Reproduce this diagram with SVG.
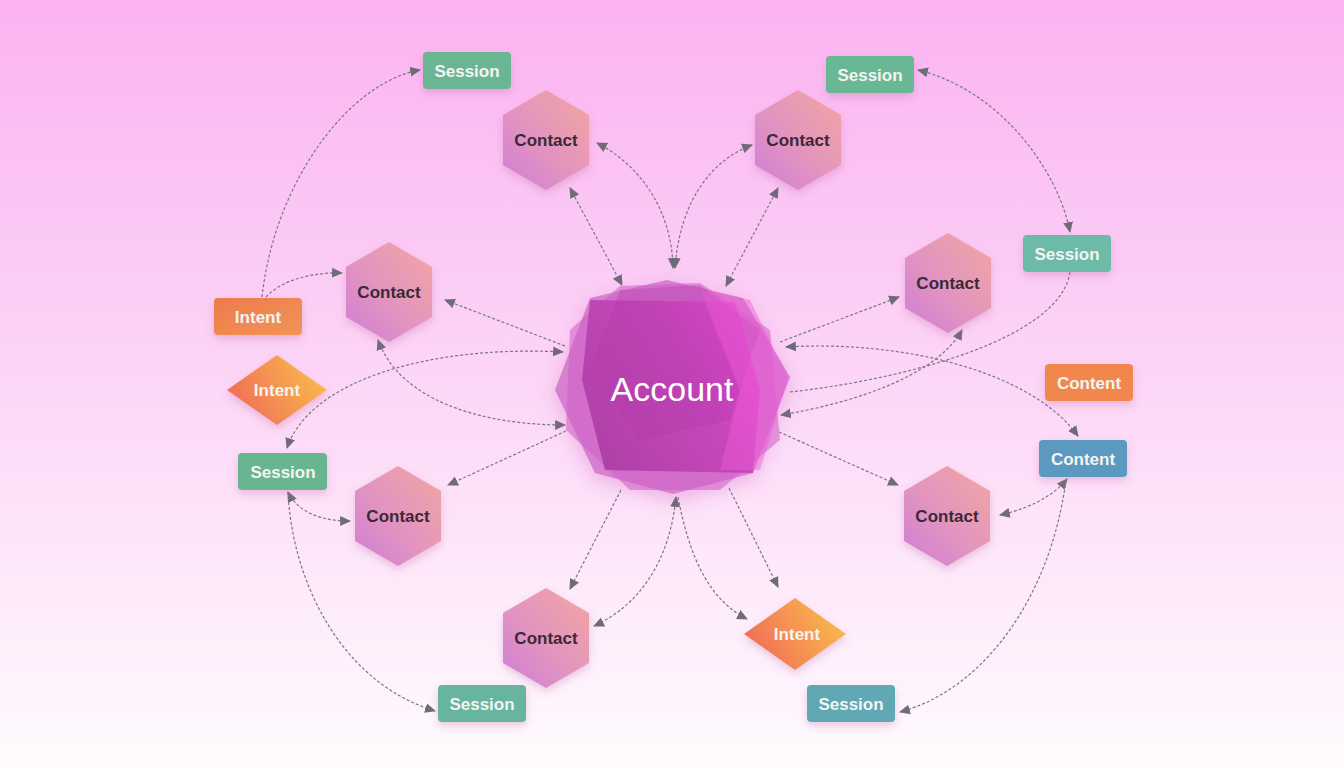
<svg xmlns="http://www.w3.org/2000/svg" width="1344" height="768" viewBox="0 0 1344 768">
<defs>
<linearGradient id="bg" x1="0" y1="0" x2="0" y2="1">
<stop offset="0" stop-color="#fbb3f1"/>
<stop offset="0.45" stop-color="#fcd3f6"/>
<stop offset="1" stop-color="#fffbfe"/>
</linearGradient>
<linearGradient id="hex" x1="1" y1="0" x2="0" y2="1">
<stop offset="0" stop-color="#f3a6a0"/>
<stop offset="0.55" stop-color="#e294c0"/>
<stop offset="1" stop-color="#cf7dd6"/>
</linearGradient>
<linearGradient id="dia" x1="0" y1="0.7" x2="1" y2="0.3">
<stop offset="0" stop-color="#f06a55"/>
<stop offset="1" stop-color="#f9bd4e"/>
</linearGradient>
<linearGradient id="intentR" x1="0" y1="0" x2="1" y2="1">
<stop offset="0" stop-color="#ef7a4e"/>
<stop offset="1" stop-color="#f19554"/>
</linearGradient>
<linearGradient id="acc" x1="0" y1="0.8" x2="1" y2="0.2">
<stop offset="0" stop-color="#a7399f"/>
<stop offset="0.6" stop-color="#c540b8"/>
<stop offset="1" stop-color="#ee46dc"/>
</linearGradient>
<filter id="sh" x="-30%" y="-30%" width="160%" height="170%">
<feDropShadow dx="0" dy="4" stdDeviation="4" flood-color="#c060a0" flood-opacity="0.3"/>
</filter>
<filter id="shA" x="-30%" y="-30%" width="160%" height="160%">
<feDropShadow dx="0" dy="6" stdDeviation="10" flood-color="#c040b0" flood-opacity="0.35"/>
</filter>
<marker id="ar" viewBox="0 0 10 10" refX="9" refY="5" markerWidth="11" markerHeight="11" markerUnits="userSpaceOnUse" orient="auto-start-reverse">
<path d="M0,0.5 L10,5 L0,9.5 z" fill="#6f6b78"/>
</marker>
<style>
.c{fill:none;stroke:#7b7782;stroke-width:1.2;stroke-dasharray:3 2}
.b{marker-start:url(#ar);marker-end:url(#ar)}
.e{marker-end:url(#ar)}
.t{font-family:"Liberation Sans",Arial,sans-serif;font-weight:bold;font-size:17px;text-anchor:middle;dominant-baseline:central}
.lt{fill:#f4f4f2}
.dk{fill:#3a2a36}
.hx{fill:url(#hex);filter:url(#sh)}
.bx{filter:url(#sh)}
</style>
</defs>
<rect width="1344" height="768" fill="url(#bg)"/>

<g id="connectors">
<path class="c e" d="M262,297 C 275,180 350,82 420,70"/>
<path class="c e" d="M266,297 C 282,280 312,272 342,273"/>
<path class="c b" d="M570,188 L622,285"/>
<path class="c b" d="M597,143 C 640,165 672,210 673,268"/>
<path class="c b" d="M675,268 C 680,200 712,160 752,145"/>
<path class="c b" d="M778,188 L726,286"/>
<path class="c b" d="M918,70 C 1000,90 1058,170 1070,232"/>
<path class="c e" d="M565,346 L445,300"/>
<path class="c b" d="M563,352 C 430,345 310,380 287,448"/>
<path class="c b" d="M378,340 C 400,400 480,425 565,425"/>
<path class="c e" d="M566,431 L448,485"/>
<path class="c b" d="M288,492 C 298,512 320,521 350,521"/>
<path class="c e" d="M288,492 C 292,580 340,682 435,711"/>
<path class="c e" d="M621,490 L570,589"/>
<path class="c b" d="M676,497 C 670,560 640,605 594,626"/>
<path class="c e" d="M678,497 C 690,560 710,600 747,619"/>
<path class="c e" d="M729,488 L778,587"/>
<path class="c e" d="M780,342 L899,297"/>
<path class="c b" d="M786,347 C 900,340 1030,370 1078,436"/>
<path class="c" d="M790,392 C 900,380 1060,340 1070,272"/>
<path class="c b" d="M781,415 C 870,400 940,370 962,330"/>
<path class="c e" d="M779,432 L898,485"/>
<path class="c b" d="M1067,479 C 1050,500 1022,510 1000,515"/>
<path class="c e" d="M1066,480 C 1050,600 982,690 900,712"/>
</g>

<g id="account">
<g filter="url(#shA)">
<polygon points="667,280 743,298 790,377 753,473 673,494 595,473 555,390 590,298" fill="#d67ace" opacity="0.92"/>
</g>
<polygon points="700,283 770,330 780,440 720,490 630,490 566,430 570,330 620,286" fill="#cf5fc6" opacity="0.55"/>
<polygon points="590,300 735,302 760,390 753,473 605,470 582,380" fill="url(#acc)" opacity="0.85"/>
<polygon points="620,290 700,285 760,330 730,420 640,440 590,370" fill="#b23aa8" opacity="0.35"/>
<polygon points="700,290 750,300 788,378 760,470 720,470 740,390" fill="#f05ad8" opacity="0.45"/>
<text x="672" y="389" font-family="'Liberation Sans',Arial,sans-serif" font-size="34" fill="#ffffff" text-anchor="middle" dominant-baseline="central">Account</text>
</g>

<g id="contact1"><polygon class="hx" points="546,90 589,115 589,165 546,190 503,165 503,115"/><text class="t dk" x="546" y="140">Contact</text></g>
<g id="contact2"><polygon class="hx" points="798,90 841,115 841,165 798,190 755,165 755,115"/><text class="t dk" x="798" y="140">Contact</text></g>
<g id="contact3"><polygon class="hx" points="389,242 432,267 432,317 389,342 346,317 346,267"/><text class="t dk" x="389" y="292">Contact</text></g>
<g id="contact4"><polygon class="hx" points="948,233 991,258 991,308 948,333 905,308 905,258"/><text class="t dk" x="948" y="283">Contact</text></g>
<g id="contact5"><polygon class="hx" points="398,466 441,491 441,541 398,566 355,541 355,491"/><text class="t dk" x="398" y="516">Contact</text></g>
<g id="contact6"><polygon class="hx" points="947,466 990,491 990,541 947,566 904,541 904,491"/><text class="t dk" x="947" y="516">Contact</text></g>
<g id="contact7"><polygon class="hx" points="546,588 589,613 589,663 546,688 503,663 503,613"/><text class="t dk" x="546" y="638">Contact</text></g>

<g id="session1"><rect class="bx" x="423" y="52" width="88" height="37" rx="4" fill="#6ab592"/><text class="t lt" x="467" y="71">Session</text></g>
<g id="session2"><rect class="bx" x="826" y="56" width="88" height="37" rx="4" fill="#6ab795"/><text class="t lt" x="870" y="75">Session</text></g>
<g id="session3"><rect class="bx" x="1023" y="235" width="88" height="37" rx="4" fill="#6cbaa7"/><text class="t lt" x="1067" y="254">Session</text></g>
<g id="session4"><rect class="bx" x="238" y="453" width="89" height="37" rx="4" fill="#69b58f"/><text class="t lt" x="283" y="472">Session</text></g>
<g id="session5"><rect class="bx" x="438" y="685" width="88" height="37" rx="4" fill="#67b59f"/><text class="t lt" x="482" y="704">Session</text></g>
<g id="session6"><rect class="bx" x="807" y="685" width="88" height="37" rx="4" fill="#5fa8b4"/><text class="t lt" x="851" y="704">Session</text></g>

<g id="intent1"><rect class="bx" x="214" y="298" width="88" height="37" rx="4" fill="url(#intentR)"/><text class="t lt" x="258" y="317">Intent</text></g>
<g id="intent2"><polygon class="bx" points="277,355 327,390 277,425 227,390" fill="url(#dia)"/><text class="t lt" x="277" y="390">Intent</text></g>
<g id="intent3"><polygon class="bx" points="795,598 846,634 795,670 744,634" fill="url(#dia)"/><text class="t lt" x="797" y="634">Intent</text></g>

<g id="content1"><rect class="bx" x="1045" y="364" width="88" height="37" rx="4" fill="#f2874e"/><text class="t lt" x="1089" y="383">Content</text></g>
<g id="content2"><rect class="bx" x="1039" y="440" width="88" height="37" rx="4" fill="#5b99c0"/><text class="t lt" x="1083" y="459">Content</text></g>
</svg>
